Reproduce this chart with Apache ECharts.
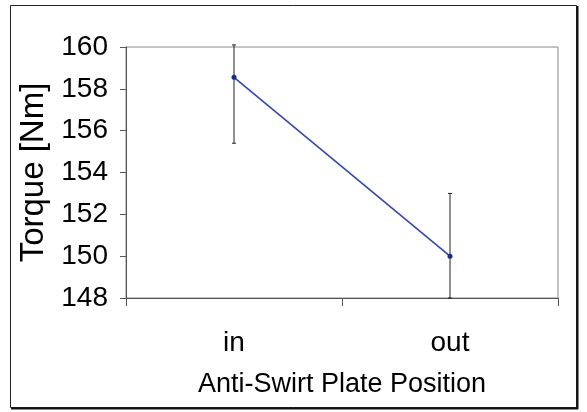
<!DOCTYPE html>
<html><head><meta charset="utf-8">
<script src="https://cdn.jsdelivr.net/npm/echarts@6/dist/echarts.min.js"></script>
<style>html,body{margin:0;padding:0;background:#fff}#c{width:587px;height:412px}</style>
</head><body><div id="c"></div>
<script>
const categories = ['in', 'out'];
const torque = [158.55, 150.0];
const errHigh = [160.1, 153.0];
const errLow = [155.4, 148.0];
const yTicks = [148, 150, 152, 154, 156, 158, 160];

const chart = echarts.init(document.getElementById('c'), null, {renderer: 'canvas'});
const font = '"Liberation Sans", Arial, sans-serif';
chart.setOption({
  animation: false,
  backgroundColor: '#fff',
  grid: {left: 126, right: 29, top: 47, bottom: 114, show: true, borderColor: '#8a8a8a', borderWidth: 1, containLabel: false},
  graphic: [
    {type: 'rect', shape: {x: 10.5, y: 5.5, width: 566, height: 402}, style: {fill: 'none', stroke: '#222', lineWidth: 1}, z: 100},
    {type: 'line', shape: {x1: 577.5, y1: 6, x2: 577.5, y2: 409}, style: {stroke: '#111', lineWidth: 2}, z: 100},
    {type: 'line', shape: {x1: 11, y1: 408.5, x2: 578, y2: 408.5}, style: {stroke: '#111', lineWidth: 2}, z: 100}
  ],
  xAxis: {
    type: 'category', data: categories, boundaryGap: true,
    axisLine: {lineStyle: {color: '#555', width: 1}},
    axisTick: {show: true, length: 8, inside: false, lineStyle: {color: '#555'}},
    axisLabel: {color: '#000', fontSize: 28, fontFamily: font, margin: 31},
    name: 'Anti-Swirt Plate Position', nameLocation: 'middle', nameGap: 73,
    nameTextStyle: {color: '#000', fontSize: 27, fontFamily: font}
  },
  yAxis: {
    type: 'value', min: yTicks[0], max: yTicks[yTicks.length - 1], interval: 2,
    splitLine: {show: false},
    axisLine: {show: true, lineStyle: {color: '#555', width: 1}},
    axisTick: {show: true, length: 6, lineStyle: {color: '#555'}},
    axisLabel: {color: '#000', fontSize: 28, fontFamily: font, margin: 18},
    name: 'Torque [Nm]', nameLocation: 'middle', nameGap: 54,
    nameTextStyle: {color: '#000', fontSize: 33, fontFamily: font}
  },
  series: [
    {
      type: 'custom', name: 'err', z: 3,
      renderItem: function (params, api) {
        const x = api.value(0);
        const hi = api.coord([x, api.value(1)]);
        const lo = api.coord([x, api.value(2)]);
        const c = 2;
        const st = {stroke: '#222', lineWidth: 1};
        return {type: 'group', children: [
          {type: 'line', shape: {x1: hi[0], y1: hi[1], x2: lo[0], y2: lo[1]}, style: st},
          {type: 'line', shape: {x1: hi[0] - c, y1: hi[1], x2: hi[0] + c, y2: hi[1]}, style: st},
          {type: 'line', shape: {x1: lo[0] - c, y1: lo[1], x2: lo[0] + c, y2: lo[1]}, style: st}
        ]};
      },
      encode: {x: 0, y: [1, 2]},
      data: categories.map((c, i) => [i, errHigh[i], errLow[i]])
    },
    {
      type: 'line', data: torque, z: 5,
      lineStyle: {color: '#3346b3', width: 1.6},
      symbol: 'circle', symbolSize: 5,
      itemStyle: {color: '#1c2a8c'}
    }
  ]
});
</script></body></html>
